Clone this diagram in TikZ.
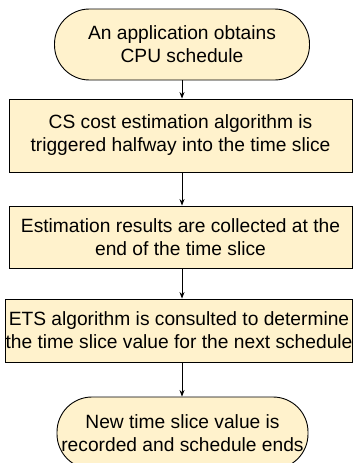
\documentclass[tikz,border=0pt]{standalone}
\usepackage{fontspec}
\setmainfont{Liberation Sans}
\usetikzlibrary{arrows.meta}
\definecolor{boxfill}{HTML}{FFF2CC}
\tikzset{
  x=1pt, y=-1pt,
  base/.style={draw=black, fill=boxfill, line width=0.9pt, inner sep=0pt, align=center,
    font=\fontsize{19.2}{23}\selectfont},
  term/.style={base, rounded corners=35pt},
  procbox/.style={base},
  arr/.style={draw=black, line width=0.9pt, -{Stealth[length=6.5pt,width=5pt]}}
}
\begin{document}
\begin{tikzpicture}
\useasboundingbox (0,0) rectangle (353,463);
\node[term, minimum width=255pt, minimum height=71pt] (start) at (182,44.5)
  {An application obtains\\CPU schedule};
\node[procbox, minimum width=343pt, minimum height=73pt] (b1) at (180.5,135.5)
  {CS cost estimation algorithm is\\triggered halfway into the time slice};
\node[procbox, minimum width=343pt, minimum height=62pt] (b2) at (180.5,237)
  {Estimation results are collected at the\\end of the time slice};
\node[procbox, minimum width=346pt, minimum height=63pt] (b3) at (179,330.5)
  {ETS algorithm is consulted to determine\\the time slice value for the next schedule};
\node[term, minimum width=251pt, minimum height=72pt] (end) at (182.5,433)
  {New time slice value is\\recorded and schedule ends};
\draw[arr] (start.south) -- (start.south |- b1.north);
\draw[arr] (start.south |- b1.south) -- (start.south |- b2.north);
\draw[arr] (start.south |- b2.south) -- (start.south |- b3.north);
\draw[arr] (start.south |- b3.south) -- (start.south |- end.north);
\end{tikzpicture}
\end{document}
